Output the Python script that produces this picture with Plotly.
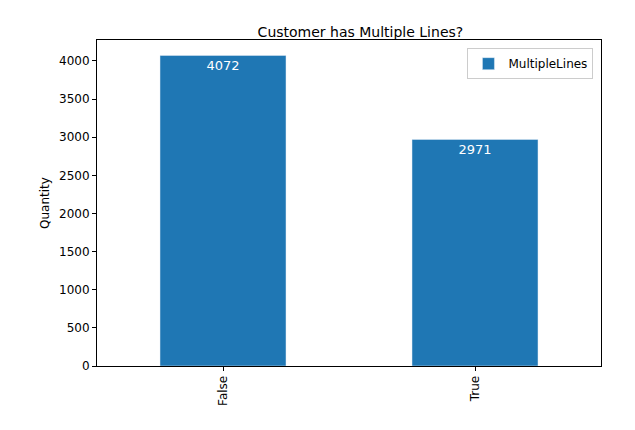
import plotly.graph_objects as go

categories = ["False", "True"]
values = [4072, 2971]
yticks = [0, 500, 1000, 1500, 2000, 2500, 3000, 3500, 4000]

fig = go.Figure(go.Bar(
    x=categories, y=values, name="MultipleLines", marker_color="#1f77b4",
    width=0.5, text=[str(v) for v in values], textposition="inside",
    insidetextanchor="end", textfont=dict(color="white", size=13),
    showlegend=True))

ax = dict(showline=True, mirror=True, linecolor="black", linewidth=1,
          ticks="outside", ticklen=4, tickcolor="black", showgrid=False, zeroline=False,
          tickfont=dict(size=12))
fig.update_layout(
    width=635, height=430, plot_bgcolor="white", paper_bgcolor="white",
    margin=dict(l=89, r=42, t=32, b=72),
    font=dict(family="DejaVu Sans", size=12, color="black"),
    title=dict(text="Customer has Multiple Lines?", x=0.555, xanchor="center", y=0.955, font=dict(size=14)),
    xaxis=dict(**ax, range=[-0.5, 1.5], tickangle=-90),
    yaxis=dict(**ax, range=[0, 4275], tickvals=yticks,
               title=dict(text="Quantity", standoff=6, font=dict(size=12))),
    legend=dict(x=0.985, y=0.975, xanchor="right", yanchor="top",
                bordercolor="#cccccc", borderwidth=1, font=dict(size=12),
                itemwidth=30, tracegroupgap=0),
)
fig.write_html("out.html")
